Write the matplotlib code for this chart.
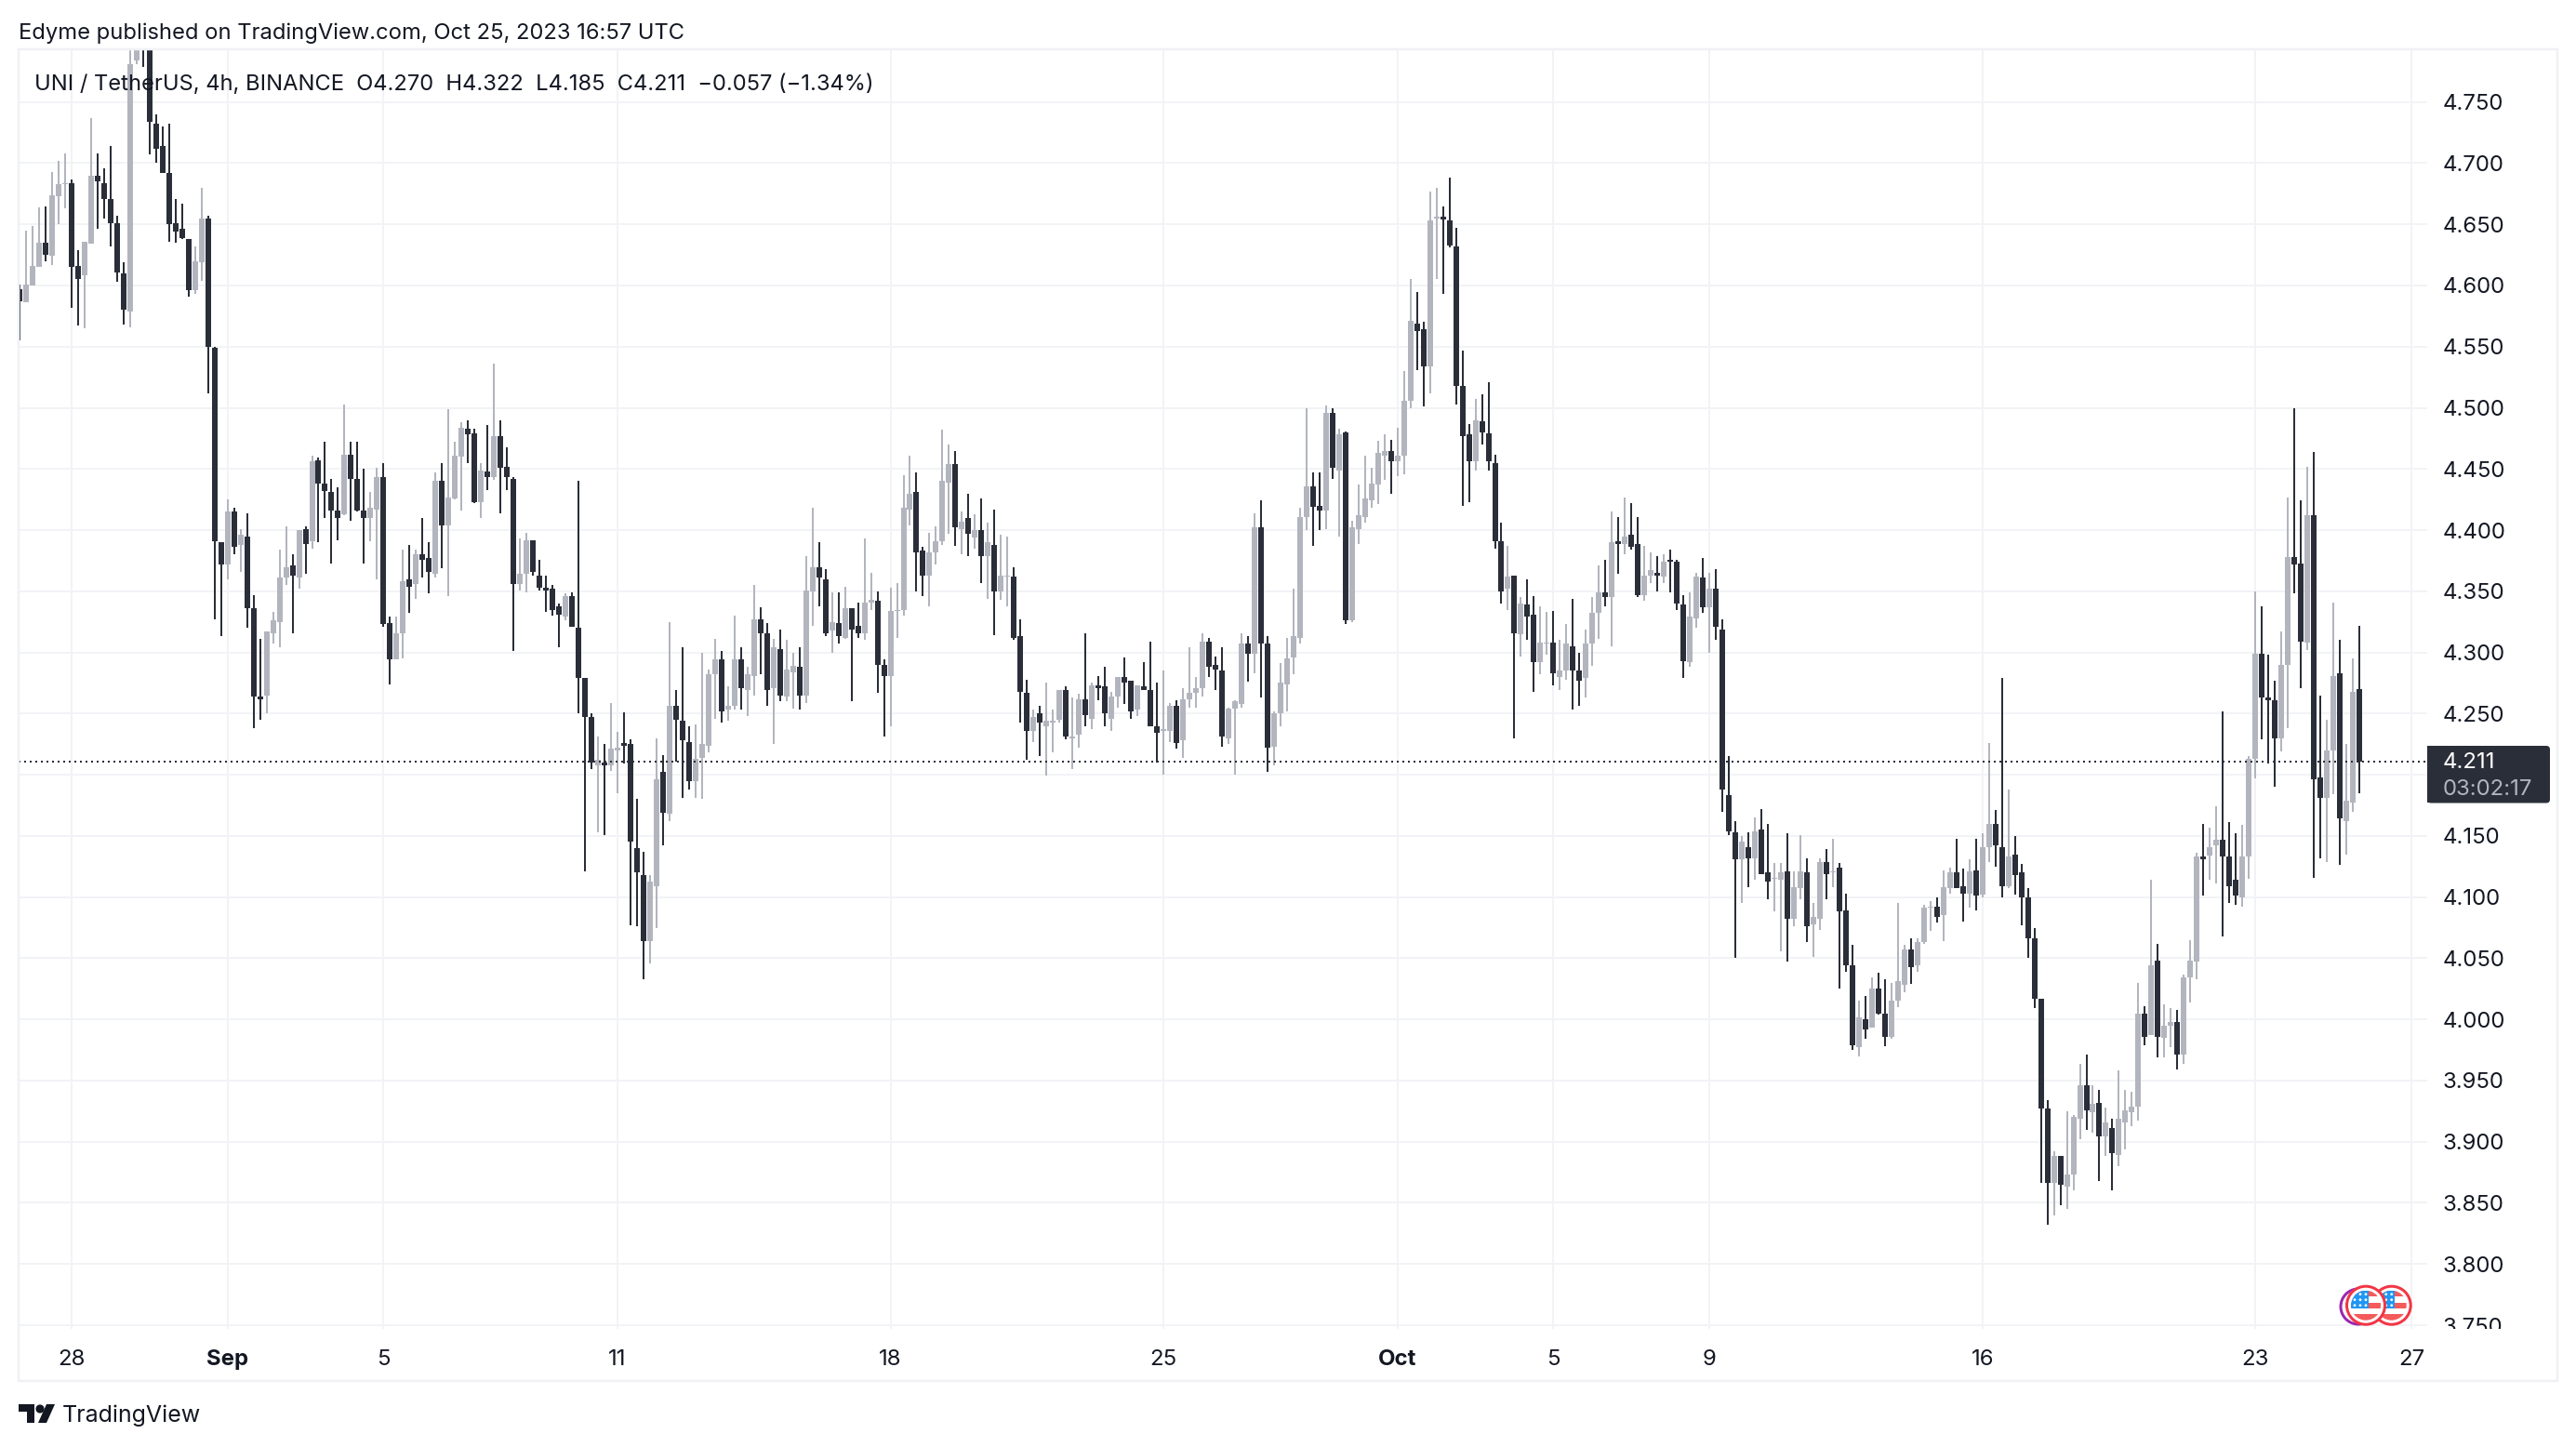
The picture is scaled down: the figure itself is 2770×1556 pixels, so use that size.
import matplotlib
matplotlib.use("Agg")
import matplotlib.pyplot as plt
import numpy as np
from matplotlib.patches import Rectangle, Circle, Polygon, FancyBboxPatch

opens = [
4.597,4.586,4.600,4.615,4.635,4.624,4.673,4.683,4.684,4.616,
4.608,4.634,4.690,4.684,4.671,4.651,4.610,4.579,4.784,4.82,
4.80,4.732,4.714,4.692,4.651,4.646,4.638,4.596,4.619,4.655,
4.549,4.390,4.372,4.415,4.388,4.395,4.336,4.264,4.265,4.316,
4.325,4.361,4.371,4.361,4.401,4.391,4.457,4.438,4.431,4.416,
4.413,4.462,4.442,4.416,4.410,4.417,4.443,4.324,4.294,4.316,
4.360,4.356,4.380,4.377,4.364,4.440,4.404,4.426,4.460,4.483,
4.479,4.423,4.448,4.443,4.477,4.452,4.442,4.356,4.364,4.392,
4.363,4.353,4.352,4.338,4.329,4.346,4.320,4.279,4.247,4.208,
4.210,4.208,4.220,4.226,4.225,4.140,4.118,4.064,4.109,4.202,
4.168,4.256,4.244,4.227,4.195,4.214,4.224,4.282,4.294,4.253,
4.256,4.294,4.269,4.281,4.327,4.316,4.271,4.303,4.264,4.284,
4.288,4.265,4.350,4.370,4.360,4.318,4.324,4.312,4.336,4.322,
4.316,4.341,4.342,4.290,4.281,4.334,4.335,4.417,4.431,4.383,
4.363,4.382,4.391,4.439,4.454,4.401,4.410,4.394,4.400,4.379,
4.388,4.350,4.362,4.362,4.313,4.267,4.236,4.250,4.240,4.243,
4.245,4.269,4.230,4.233,4.262,4.246,4.273,4.272,4.246,4.264,
4.280,4.277,4.253,4.272,4.269,4.240,4.236,4.236,4.256,4.228,
4.262,4.267,4.271,4.309,4.290,4.285,4.230,4.254,4.258,4.307,
4.299,4.402,4.307,4.223,4.250,4.274,4.296,4.312,4.411,4.436,
4.420,4.416,4.496,4.449,4.480,4.326,4.401,4.411,4.424,4.437,
4.461,4.465,4.456,4.461,4.506,4.569,4.564,4.534,4.655,4.656,
4.653,4.632,4.518,4.478,4.456,4.489,4.479,4.455,4.391,4.352,
4.363,4.315,4.339,4.331,4.292,4.307,4.308,4.280,4.285,4.305,
4.285,4.279,4.307,4.332,4.349,4.345,4.391,4.389,4.396,4.389,
4.347,4.363,4.365,4.362,4.376,4.374,4.339,4.292,4.328,4.361,
4.337,4.352,4.319,4.183,4.153,4.131,4.141,4.132,4.155,4.120,
4.115,4.114,4.121,4.082,4.107,4.120,4.078,4.082,4.129,4.120,
4.124,4.089,4.044,3.977,4.000,3.993,4.025,4.005,3.986,4.015,
4.028,4.057,4.044,4.063,4.091,4.092,4.085,4.107,4.120,4.109,
4.103,4.122,4.102,4.141,4.160,4.141,4.109,4.135,4.120,4.100,
4.066,4.017,3.927,3.866,3.888,3.863,3.873,3.919,3.946,3.924,
3.932,3.904,3.911,3.889,3.916,3.924,3.929,4.005,3.987,4.048,
3.985,3.995,3.998,3.971,4.034,4.047,4.133,4.134,4.142,4.147,
4.133,4.114,4.100,4.133,4.213,4.299,4.263,4.261,4.230,4.290,
4.378,4.373,4.308,4.412,4.198,4.181,4.220,4.283,4.162,4.177,
4.270]
highs = [
4.601,4.645,4.649,4.664,4.665,4.693,4.702,4.708,4.687,4.629,
4.636,4.737,4.708,4.696,4.714,4.657,4.619,4.81,4.82,4.84,
4.81,4.740,4.730,4.732,4.671,4.667,4.638,4.632,4.680,4.657,
4.550,4.390,4.425,4.418,4.401,4.414,4.347,4.311,4.317,4.333,
4.384,4.403,4.380,4.400,4.403,4.461,4.459,4.472,4.442,4.435,
4.503,4.472,4.472,4.450,4.431,4.451,4.455,4.329,4.329,4.384,
4.388,4.384,4.410,4.390,4.447,4.455,4.499,4.472,4.488,4.490,
4.483,4.455,4.486,4.536,4.490,4.468,4.443,4.393,4.398,4.392,
4.376,4.363,4.355,4.340,4.348,4.349,4.440,4.279,4.250,4.231,
4.225,4.259,4.235,4.251,4.229,4.180,4.137,4.118,4.230,4.216,
4.325,4.269,4.304,4.240,4.241,4.300,4.286,4.311,4.301,4.272,
4.330,4.304,4.288,4.355,4.337,4.324,4.311,4.319,4.310,4.300,
4.304,4.379,4.418,4.390,4.368,4.349,4.349,4.354,4.336,4.341,
4.393,4.365,4.350,4.294,4.353,4.357,4.445,4.461,4.447,4.386,
4.398,4.403,4.482,4.470,4.465,4.415,4.430,4.413,4.426,4.406,
4.417,4.396,4.395,4.370,4.327,4.278,4.253,4.256,4.275,4.253,
4.269,4.272,4.263,4.266,4.316,4.275,4.281,4.288,4.268,4.280,
4.296,4.277,4.273,4.292,4.309,4.275,4.285,4.259,4.261,4.271,
4.304,4.280,4.316,4.312,4.297,4.304,4.255,4.261,4.316,4.313,
4.414,4.424,4.313,4.252,4.291,4.312,4.352,4.418,4.500,4.447,
4.447,4.502,4.500,4.483,4.481,4.408,4.437,4.461,4.451,4.473,
4.478,4.474,4.484,4.530,4.605,4.595,4.570,4.677,4.680,4.665,
4.688,4.647,4.547,4.487,4.507,4.511,4.521,4.462,4.406,4.387,
4.363,4.345,4.360,4.346,4.338,4.333,4.334,4.310,4.323,4.344,
4.300,4.319,4.345,4.371,4.376,4.415,4.411,4.427,4.422,4.411,
4.387,4.382,4.379,4.380,4.384,4.376,4.347,4.349,4.365,4.377,
4.365,4.368,4.327,4.215,4.162,4.150,4.153,4.165,4.172,4.160,
4.128,4.128,4.152,4.121,4.151,4.132,4.095,4.132,4.139,4.148,
4.128,4.103,4.061,4.015,4.019,4.034,4.038,4.033,4.030,4.095,
4.061,4.066,4.066,4.094,4.097,4.100,4.122,4.124,4.148,4.123,
4.131,4.148,4.152,4.226,4.171,4.279,4.188,4.150,4.127,4.107,
4.075,4.017,3.934,3.892,3.888,3.925,3.922,3.964,3.971,3.946,
3.942,3.928,3.919,3.958,3.942,3.941,4.030,4.011,4.114,4.062,
4.012,4.009,4.008,4.037,4.065,4.136,4.160,4.157,4.174,4.252,
4.161,4.152,4.159,4.215,4.350,4.338,4.298,4.277,4.317,4.427,
4.500,4.424,4.452,4.464,4.265,4.245,4.341,4.310,4.225,4.295,
4.322]
lows = [
4.555,4.586,4.600,4.615,4.620,4.617,4.650,4.663,4.582,4.567,
4.565,4.634,4.646,4.655,4.632,4.603,4.568,4.566,4.781,4.779,
4.707,4.700,4.692,4.636,4.635,4.638,4.591,4.593,4.604,4.512,
4.327,4.313,4.360,4.380,4.366,4.320,4.238,4.245,4.250,4.307,
4.304,4.355,4.316,4.352,4.364,4.385,4.390,4.410,4.373,4.392,
4.412,4.408,4.415,4.373,4.391,4.360,4.321,4.274,4.294,4.295,
4.332,4.344,4.361,4.348,4.361,4.369,4.346,4.425,4.416,4.455,
4.422,4.410,4.433,4.441,4.414,4.433,4.301,4.351,4.349,4.363,
4.351,4.333,4.330,4.304,4.326,4.321,4.250,4.121,4.205,4.153,
4.151,4.203,4.185,4.209,4.077,4.076,4.033,4.046,4.075,4.142,
4.162,4.211,4.181,4.188,4.181,4.180,4.218,4.246,4.243,4.244,
4.253,4.253,4.248,4.265,4.282,4.256,4.225,4.260,4.260,4.254,
4.253,4.259,4.322,4.338,4.313,4.300,4.307,4.311,4.260,4.312,
4.310,4.335,4.267,4.231,4.240,4.312,4.330,4.404,4.350,4.346,
4.338,4.372,4.388,4.397,4.387,4.380,4.379,4.385,4.357,4.344,
4.314,4.343,4.338,4.310,4.243,4.212,4.227,4.215,4.199,4.218,
4.243,4.229,4.205,4.222,4.240,4.237,4.261,4.240,4.236,4.255,
4.258,4.246,4.248,4.269,4.240,4.210,4.200,4.227,4.221,4.214,
4.255,4.255,4.264,4.280,4.269,4.223,4.225,4.200,4.255,4.276,
4.283,4.263,4.202,4.208,4.240,4.252,4.282,4.307,4.400,4.387,
4.400,4.401,4.442,4.395,4.323,4.325,4.389,4.406,4.418,4.421,
4.441,4.430,4.444,4.446,4.500,4.531,4.501,4.512,4.605,4.593,
4.631,4.503,4.420,4.423,4.449,4.470,4.449,4.385,4.340,4.335,
4.230,4.297,4.310,4.268,4.282,4.298,4.273,4.269,4.278,4.253,
4.256,4.263,4.289,4.311,4.338,4.305,4.364,4.380,4.384,4.345,
4.342,4.357,4.350,4.357,4.349,4.335,4.279,4.288,4.320,4.332,
4.300,4.310,4.170,4.151,4.050,4.095,4.108,4.114,4.119,4.098,
4.088,4.056,4.047,4.076,4.098,4.063,4.051,4.073,4.098,4.108,
4.025,4.039,3.975,3.970,3.984,3.993,4.004,3.978,3.984,4.010,
4.022,4.029,4.039,4.062,4.072,4.079,4.064,4.103,4.107,4.080,
4.091,4.089,4.100,4.129,4.125,4.100,4.107,4.102,4.077,4.050,
4.009,3.866,3.832,3.840,3.848,3.845,3.860,3.902,3.910,3.907,
3.868,3.888,3.860,3.880,3.894,3.913,3.917,3.979,3.987,3.969,
3.969,3.977,3.959,3.964,4.014,4.033,4.101,4.114,4.111,4.068,
4.095,4.094,4.092,4.115,4.197,4.229,4.209,4.190,4.219,4.238,
4.348,4.271,4.302,4.116,4.132,4.129,4.184,4.126,4.135,4.170,
4.185]
closes = [
4.587,4.601,4.616,4.635,4.625,4.674,4.683,4.684,4.615,4.605,
4.636,4.690,4.685,4.671,4.651,4.611,4.580,4.781,4.80,4.80,
4.734,4.712,4.692,4.650,4.644,4.639,4.596,4.620,4.655,4.550,
4.391,4.372,4.415,4.386,4.396,4.336,4.264,4.262,4.317,4.326,
4.361,4.370,4.363,4.400,4.389,4.456,4.438,4.432,4.416,4.410,
4.462,4.442,4.416,4.410,4.418,4.443,4.323,4.294,4.316,4.358,
4.354,4.380,4.376,4.366,4.440,4.404,4.427,4.461,4.484,4.478,
4.423,4.449,4.443,4.477,4.451,4.443,4.356,4.364,4.392,4.366,
4.353,4.351,4.335,4.331,4.346,4.321,4.279,4.247,4.210,4.212,
4.208,4.221,4.222,4.224,4.145,4.120,4.064,4.113,4.196,4.169,
4.256,4.245,4.228,4.195,4.213,4.225,4.282,4.294,4.252,4.256,
4.294,4.271,4.282,4.327,4.316,4.269,4.304,4.265,4.286,4.289,
4.265,4.351,4.370,4.361,4.316,4.325,4.313,4.336,4.319,4.316,
4.341,4.343,4.290,4.281,4.334,4.335,4.418,4.430,4.382,4.363,
4.382,4.391,4.440,4.454,4.402,4.407,4.397,4.400,4.379,4.390,
4.350,4.363,4.363,4.312,4.268,4.236,4.247,4.243,4.244,4.244,
4.269,4.231,4.231,4.262,4.249,4.273,4.271,4.250,4.264,4.280,
4.275,4.252,4.273,4.269,4.240,4.234,4.237,4.256,4.226,4.262,
4.267,4.271,4.309,4.288,4.286,4.231,4.254,4.260,4.307,4.299,
4.402,4.307,4.222,4.250,4.275,4.295,4.313,4.411,4.436,4.419,
4.416,4.496,4.451,4.478,4.326,4.402,4.412,4.426,4.438,4.463,
4.465,4.456,4.461,4.506,4.571,4.563,4.534,4.653,4.656,4.654,
4.633,4.518,4.477,4.456,4.490,4.480,4.456,4.391,4.350,4.362,
4.316,4.340,4.329,4.292,4.308,4.308,4.283,4.285,4.307,4.285,
4.277,4.307,4.332,4.349,4.345,4.390,4.389,4.395,4.386,4.347,
4.363,4.367,4.363,4.374,4.374,4.340,4.293,4.329,4.362,4.337,
4.352,4.321,4.188,4.154,4.131,4.145,4.132,4.154,4.119,4.113,
4.116,4.120,4.082,4.108,4.121,4.076,4.084,4.129,4.119,4.121,
4.088,4.044,3.979,4.002,3.992,4.025,4.005,3.986,4.015,4.031,
4.057,4.043,4.063,4.091,4.092,4.084,4.108,4.120,4.107,4.103,
4.121,4.101,4.141,4.160,4.142,4.109,4.133,4.118,4.100,4.066,
4.017,3.927,3.866,3.888,3.865,3.873,3.920,3.946,3.926,3.931,
3.904,3.916,3.891,3.919,3.926,3.929,4.005,3.986,4.044,3.986,
3.995,3.998,3.971,4.034,4.048,4.133,4.131,4.141,4.147,4.133,
4.109,4.101,4.133,4.213,4.299,4.263,4.261,4.230,4.290,4.378,
4.372,4.309,4.412,4.196,4.181,4.220,4.281,4.164,4.179,4.268,
4.211]

price_ticks = [3.75,3.80,3.85,3.90,3.95,4.00,4.05,4.10,4.15,4.20,4.25,4.30,4.35,4.40,4.45,4.50,4.55,4.60,4.65,4.70,4.75]
date_positions = [8,32,56,92,134,176,212,236,260,302,344,368]
date_labels = ["28","Sep","5","11","18","25","Oct","5","9","16","23","27"]
last_price = 4.211

W, H = 2770, 1556
DARK, GRAY, TEXT, GRID = "#2a2e39", "#b2b5be", "#131722", "#f2f3f6"
PX = 0.72  # points per pixel at dpi 100
plt.rcParams["font.family"] = ["Inter", "DejaVu Sans"]

fig = plt.figure(figsize=(W/100, H/100), dpi=100, facecolor="white")
L, R, T, B = 20, 2610, 53, 1429
ax = fig.add_axes([L/W, 1-B/H, (R-L)/W, (B-T)/H])
ax.set_xlim((L-21)/6.989, (R-21)/6.989)
ax.set_ylim(3.75-(B-1425)/1315.3, 4.75+(109.7-T)/1315.3)
for s in ax.spines.values():
    s.set_visible(False)
ax.set_axisbelow(True)
ax.grid(True, color=GRID, lw=2*PX)
ax.yaxis.tick_right()
# the 4.200 label sits hidden behind the last-price tag in the reference
ax.set_yticks(price_ticks, ["" if v == 4.20 else f"{v:.3f}" for v in price_ticks])
ax.set_xticks(date_positions, date_labels)
ax.tick_params(axis="y", length=0, pad=17*PX, labelsize=24*PX, labelcolor=TEXT)
ax.tick_params(axis="x", length=0, pad=22*PX, labelsize=24*PX, labelcolor=TEXT)
for t in ax.get_xticklabels():
    if t.get_text() in ("Sep", "Oct"):
        t.set_fontweight("bold")

o, h, l, c = map(np.array, (opens, highs, lows, closes))
idx = np.arange(len(o))
up = c >= o
cols = np.where(up, GRAY, DARK)
ax.vlines(idx, l, h, colors=cols, lw=2*PX, zorder=3)
ax.bar(idx, np.abs(c-o), bottom=np.minimum(o, c), width=6/6.989, color=cols, linewidth=0, zorder=4)
ax.axhline(last_price, color=DARK, lw=2*PX, ls=(0, (1, 2)), zorder=5)

# overlay in pixel coordinates for page furniture
ov = fig.add_axes([0, 0, 1, 1], facecolor="none", zorder=10)
ov.set_xlim(0, W); ov.set_ylim(H, 0); ov.axis("off")
ov.add_patch(Rectangle((R+2, B), 136, 54, fc="white", ec="none"))
ov.add_patch(Rectangle((L, T), 2750-L, 1485-T, fc="none", ec="#f0f1f5", lw=2.5*PX))

# last-price label
ov.add_patch(FancyBboxPatch((R+4, 806), 124, 53.5, boxstyle="round,pad=4,rounding_size=4", fc=DARK, ec="none"))
ov.add_patch(Rectangle((R, 802), 10, 61.4, fc=DARK, ec="none"))
ov.text(2627, 819.5, "4.211", color="white", fontsize=24*PX, va="center")
ov.text(2627, 848.5, "03:02:17", color=GRAY, fontsize=24*PX, va="center")

# header texts
ov.text(20, 35.5, "Edyme published on TradingView.com, Oct 25, 2023 16:57 UTC", color=TEXT, fontsize=23.75*PX, va="center")
ov.text(37, 91, "UNI / TetherUS, 4h, BINANCE  O4.270  H4.322  L4.185  C4.211  −0.057 (−1.34%)", color=TEXT, fontsize=23.7*PX, va="center")

# TradingView logo
ov.add_patch(Polygon([(20,1510),(37,1510),(37,1530),(29,1530),(29,1518),(20,1518)], fc=TEXT, ec="none"))
ov.add_patch(Circle((43,1515), 4.6, fc=TEXT, ec="none"))
ov.add_patch(Polygon([(50,1510),(59,1510),(50,1530),(41,1530)], fc=TEXT, ec="none"))
ov.text(67, 1522, "TradingView", color=TEXT, fontsize=25*PX, va="center")

# event flags
def flag(cx, cy, z):
    ring = Circle((cx, cy), 20.5, fc="white", ec="#f23645", lw=3*PX, zorder=z)
    ov.add_patch(ring)
    clip = Circle((cx, cy), 16, transform=ov.transData)
    for dy0, dy1 in ((-16, -10), (-3, 3), (9, 16)):
        r = Rectangle((cx-16, cy+dy0), 32, dy1-dy0, fc="#f55a5a", ec="none", zorder=z+.1)
        ov.add_patch(r); r.set_clip_path(clip)
    r = Rectangle((cx-16, cy-16), 19, 19, fc="#2196f3", ec="none", zorder=z+.2)
    ov.add_patch(r); r.set_clip_path(clip)
    for sx, sy in [(-6,-12),(0,-12),(-12,-6),(-6,-6),(0,-6),(-12,0),(-6,0),(0,0)]:
        ov.add_patch(Circle((cx+sx, cy+sy), 1.4, fc="white", ec="none", zorder=z+.3))

ov.add_patch(Circle((2536, 1405), 19, fc="white", ec="#9c27b0", lw=3*PX, zorder=2))
flag(2571.7, 1403.7, 3)
flag(2544, 1403.7, 4)

fig.savefig("out.png", dpi=100, facecolor="white")
